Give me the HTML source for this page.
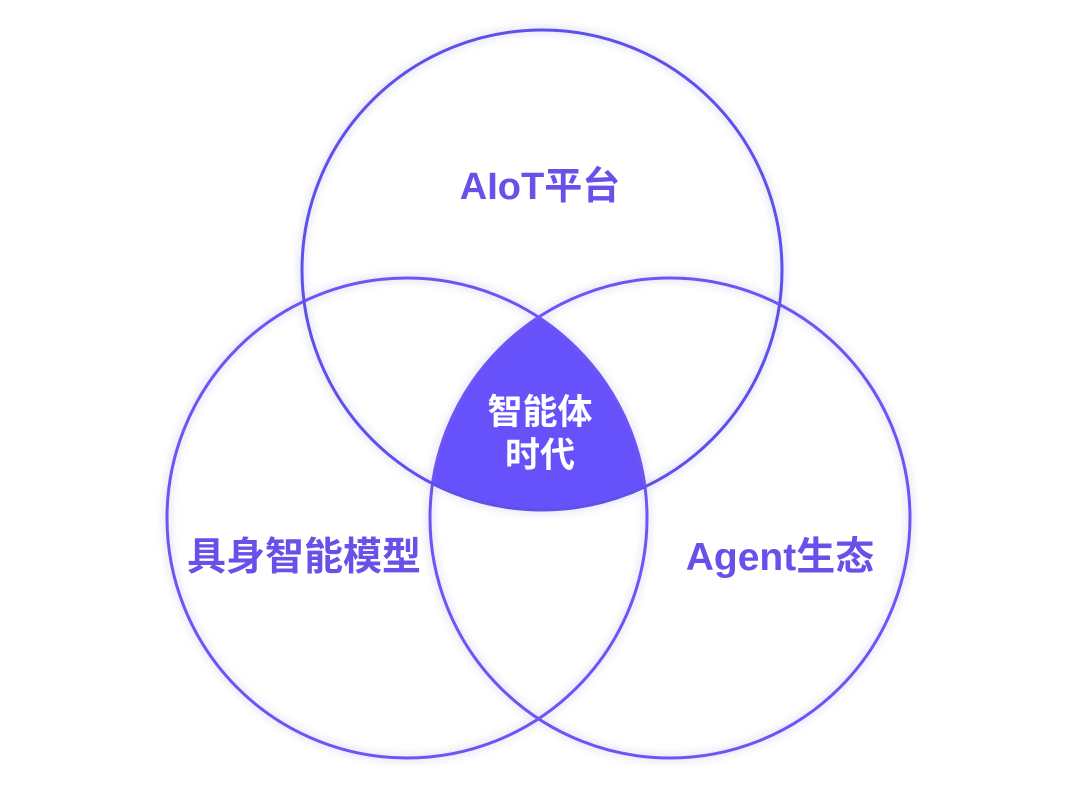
<!DOCTYPE html>
<html><head><meta charset="utf-8"><style>
html,body{margin:0;padding:0;background:#fff;}
svg{display:block;}
text{font-family:"Liberation Sans","Noto Sans CJK SC",sans-serif;font-weight:700;}
</style></head><body>
<svg width="1080" height="791" viewBox="0 0 1080 791" xmlns="http://www.w3.org/2000/svg">
<defs>
<clipPath id="cA"><circle cx="542" cy="270" r="240"/></clipPath>
<clipPath id="cB"><circle cx="407" cy="518" r="240"/></clipPath>
<filter id="sh" x="-20%" y="-20%" width="140%" height="140%"><feGaussianBlur stdDeviation="4"/></filter>
</defs>
<g fill="none" stroke="#e8e6f4" stroke-width="8" filter="url(#sh)">
<circle cx="542" cy="270" r="240"/>
<circle cx="407" cy="518" r="240"/>
<circle cx="670" cy="518" r="240"/>
</g>
<g clip-path="url(#cA)"><g clip-path="url(#cB)">
<circle cx="670" cy="518" r="240" fill="#6751fa"/>
</g></g>
<g fill="none" stroke="#6c55f4" stroke-width="3">
<circle cx="407" cy="518" r="240"/>
<circle cx="670" cy="518" r="240"/>
<circle cx="542" cy="270" r="240" stroke="#5e50ea"/>
</g>
<text x="540" y="199" font-size="38" fill="#6a4fe8" text-anchor="middle">AIoT平台</text>
<text x="304" y="570" font-size="39" fill="#6a4fe8" text-anchor="middle">具身智能模型</text>
<text x="780" y="570" font-size="39" fill="#6a4fe8" text-anchor="middle">Agent生态</text>
<text x="540" y="424" font-size="35" fill="#fff" text-anchor="middle">智能体</text>
<text x="540" y="467" font-size="35" fill="#fff" text-anchor="middle">时代</text>
</svg>
</body></html>
